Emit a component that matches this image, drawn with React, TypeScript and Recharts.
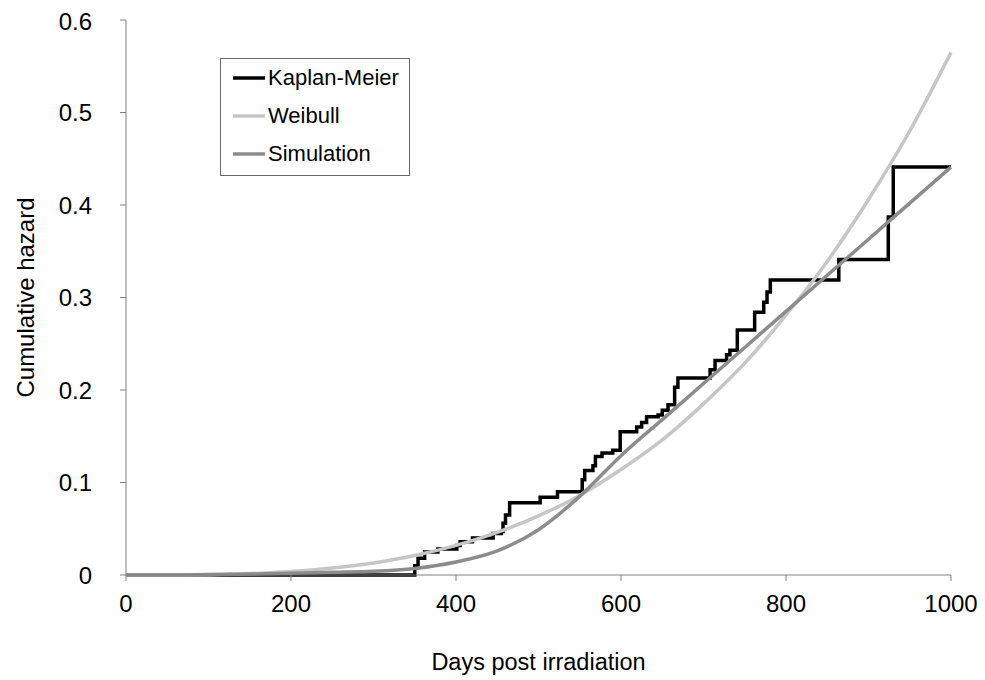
import React from "react";
import { LineChart, Line, XAxis, YAxis, Legend, Label } from "recharts";

const kmDays = [0, 350, 354, 362, 378, 401, 405, 420, 445, 455, 457, 460, 465, 502, 523, 553, 556, 566, 569, 577, 590, 599, 619, 625, 631, 645, 650, 657, 665, 669, 708, 714, 728, 732, 741, 762, 773, 777, 781, 864, 924, 930, 1000];
const kmHazard = [0, 0.01, 0.018, 0.025, 0.028, 0.032, 0.036, 0.04, 0.045, 0.047, 0.056, 0.065, 0.078, 0.084, 0.09, 0.103, 0.113, 0.118, 0.128, 0.132, 0.135, 0.155, 0.16, 0.165, 0.171, 0.173, 0.178, 0.184, 0.203, 0.213, 0.222, 0.232, 0.238, 0.243, 0.265, 0.284, 0.295, 0.306, 0.319, 0.341, 0.387, 0.441, 0.441];

const curveDays = [0, 50, 100, 150, 200, 250, 300, 350, 400, 450, 500, 550, 600, 650, 700, 750, 800, 850, 900, 950, 1000];
const weibullHazard = [0, 0.0001, 0.0004, 0.0015, 0.0037, 0.0075, 0.013, 0.021, 0.032, 0.046, 0.064, 0.086, 0.114, 0.146, 0.185, 0.229, 0.281, 0.339, 0.406, 0.48, 0.565];
const simulationHazard = [0, 0, 0.0005, 0.001, 0.002, 0.003, 0.004, 0.007, 0.014, 0.026, 0.049, 0.085, 0.129, 0.168, 0.207, 0.246, 0.285, 0.324, 0.363, 0.402, 0.441];

const xTicks = [0, 200, 400, 600, 800, 1000];
const yTicks = [0, 0.1, 0.2, 0.3, 0.4, 0.5, 0.6];

const seriesNames = ["Kaplan-Meier", "Weibull", "Simulation"];
const seriesColors = ["#000000", "#c6c6c6", "#8c8c8c"];

const kmData = kmDays.map((d, i) => ({ day: d, value: kmHazard[i] }));
const weibullData = curveDays.map((d, i) => ({ day: d, value: weibullHazard[i] }));
const simulationData = curveDays.map((d, i) => ({ day: d, value: simulationHazard[i] }));

const FONT = "'Liberation Sans', Arial, sans-serif";

const LegendBox = () => (
  <div
    style={{
      border: "1px solid #6a6a6a",
      background: "#fff",
      padding: "0px 10px 2px 12px",
      fontFamily: FONT,
      fontSize: 22,
      color: "#000",
      whiteSpace: "nowrap",
      display: "inline-block",
    }}
  >
    {seriesNames.map((n, i) => (
      <div key={n} style={{ display: "flex", alignItems: "center", height: 38 }}>
        <svg width={32} height={10} style={{ marginRight: 3 }}>
          <line x1={0} y1={5} x2={32} y2={5} stroke={seriesColors[i]} strokeWidth={3.5} />
        </svg>
        <span>{n}</span>
      </div>
    ))}
  </div>
);

export default function App() {
  return (
    <div style={{ position: "relative", width: 977, height: 672, background: "#fff" }}>
      <LineChart width={977} height={672} margin={{ top: 12, right: 34, left: 0, bottom: 0 }}>
        <XAxis
          dataKey="day"
          type="number"
          domain={[0, 1000]}
          ticks={xTicks}
          allowDuplicatedCategory={false}
          height={105}
          stroke="#808080"
          tickSize={6}
          tickMargin={14}
          tick={{ fill: "#000", fontSize: 24, fontFamily: FONT }}
        >
          <Label value="Days post irradiation" position="insideBottom" offset={10} style={{ fill: "#000", fontSize: 23.5, fontFamily: FONT }} />
        </XAxis>
        <YAxis
          type="number"
          domain={[0, 0.6]}
          ticks={yTicks}
          width={118}
          stroke="#808080"
          tickSize={6}
          tickMargin={28}
          tickFormatter={(v: number) => (v === 0 ? "0" : v.toFixed(1))}
          tick={{ fill: "#000", fontSize: 24, fontFamily: FONT }}
        >
          <Label value="Cumulative hazard" angle={-90} position="insideLeft" offset={17} style={{ fill: "#000", fontSize: 24, fontFamily: FONT, textAnchor: "middle" }} />
        </YAxis>
        <Legend
          layout="vertical"
          verticalAlign="middle"
          align="center"
          content={() => <LegendBox />}
          wrapperStyle={{ position: "absolute", left: 212, top: 50, width: "auto", height: "auto" }}
        />
        <Line data={kmData} dataKey="value" name="Kaplan-Meier" type="stepAfter" stroke={seriesColors[0]} strokeWidth={3.5} dot={false} isAnimationActive={false} />
        <Line data={weibullData} dataKey="value" name="Weibull" type="monotone" stroke={seriesColors[1]} strokeWidth={3.5} dot={false} isAnimationActive={false} />
        <Line data={simulationData} dataKey="value" name="Simulation" type="monotone" stroke={seriesColors[2]} strokeWidth={3.5} dot={false} isAnimationActive={false} />
      </LineChart>
    </div>
  );
}
